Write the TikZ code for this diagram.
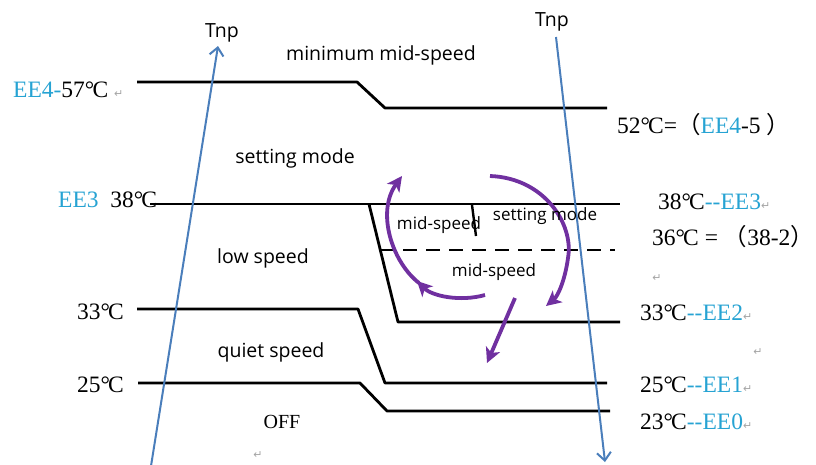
\documentclass[tikz,border=0pt]{standalone}
\usepackage{fontspec}
\setmainfont{Liberation Serif}
\newfontfamily\labelsans{Open Sans}
\newfontfamily\cjkfont{Noto Sans CJK SC}
\newfontfamily\symfont{DejaVu Sans}
\usetikzlibrary{arrows.meta}
\definecolor{eecyan}{RGB}{38,163,211}
\definecolor{tnpblue}{RGB}{74,126,187}
\definecolor{arcpurple}{RGB}{112,48,160}
\definecolor{markgray}{RGB}{165,165,165}
\newcommand\dC{°\kern-0.08em C}
\newcommand\ret{{\symfont\fontsize{11}{11}\selectfont\color{markgray}↵}}
\newcommand\fwl{{\cjkfont （}}
\newcommand\fwr{{\cjkfont ）}}
\begin{document}
\begin{tikzpicture}[x=1pt,y=-1pt,
  level/.style={line width=2.8pt, black, line join=round},
  tnp/.style={line width=2pt, tnpblue, -{Straight Barb[length=8pt,width=14pt]}},
  swirl/.style={line width=3.8pt, arcpurple, -{Stealth[length=15pt,width=15pt,inset=4pt]}},
  zone/.style={font=\labelsans\fontsize{19.5}{21}\selectfont, inner sep=0pt},
  innerlbl/.style={font=\labelsans\fontsize{17}{19}\selectfont, inner sep=0pt},
  temp/.style={font=\fontsize{23.5}{25}\selectfont, inner sep=0pt, anchor=west},
  retmark/.style={inner sep=0pt}]

\useasboundingbox[fill=white] (0,0) rectangle (816,464);

% level lines
\draw[level] (137,82) -- (357,82) -- (385,108) -- (607,108);
\draw[level] (150,204) -- (620,204);
\draw[level] (369,204) -- (398,322) -- (620,322);
\draw[level, dash pattern=on 14pt off 9pt] (380,250) -- (615,250);
\draw[level, line width=2.4pt] (472,205) -- (476,236);
\draw[level] (137,309) -- (358,309) -- (385,383) -- (607,383);
\draw[level] (138,383) -- (360,383) -- (387,411) -- (610,411);

% Tnp arrows
\coordinate (tlb) at (151,466);
\coordinate (tlt) at (218,46);
\coordinate (trt) at (556,37);
\coordinate (trb) at (605,462);
\draw[tnp] (tlb) -- (tlt);
\draw[tnp] (trt) -- (trb);
\node[zone] (tnpL) at (222,33) {Tnp};
\node[zone] (tnpR) at (552,22) {Tnp};

% purple swirl arrows
\draw[swirl] (485,295) .. controls (460,302) and (432,296) .. (417,281);
\draw[swirl] (419,283) .. controls (392,262) and (376,212) .. (402,176);
\draw[swirl] (490,176) .. controls (545,178) and (574,225) .. (568,258) .. controls (565,280) and (558,296) .. (546,306);
\draw[swirl] (515,298) -- (487,363);

% zone labels
\node[zone] (minmid) at (381,55) {minimum mid-speed};
\node[zone] (setmode) at (295,158) {setting mode};
\node[zone] (low) at (263,258) {low speed};
\node[zone] (quiet) at (271,352) {quiet speed};
\node[inner sep=0pt, font=\fontsize{20}{22}\selectfont] (off) at (282,422) {OFF};
\node[innerlbl] (mid1) at (439,225) {mid-speed};
\node[innerlbl] (set2) at (545,216) {setting mode};
\node[innerlbl] (mid2) at (494,272) {mid-speed};

% left temperature labels
\node[temp] (ee4l) at (13,90) {{\color{eecyan}EE4-}57\dC\ \ret};
\node[temp] (ee3l) at (58,200) {{\color{eecyan}EE3}\ \ 38\dC};
\node[temp] (t33l) at (77,312) {33\dC};
\node[temp] (t25l) at (77,385) {25\dC};

% right temperature labels
\node[temp] (r52) at (617,125) {52\dC=\fwl{\color{eecyan}EE4}-5 \fwr};
\node[temp] (r38) at (658,202) {38\dC{\color{eecyan}-{}-EE3}\ret};
\node[temp] (r36) at (652,237) {36\dC\ = \fwl 38-2\fwr};
\node[retmark] (ret1) at (657,278) {\ret};
\node[temp] (r33) at (640,313) {33\dC{\color{eecyan}-{}-EE2}\ret};
\node[retmark] (ret2) at (758,352) {\ret};
\node[temp] (r25) at (640,385) {25\dC{\color{eecyan}-{}-EE1}\ret};
\node[temp] (r23) at (640,422) {23\dC{\color{eecyan}-{}-EE0}\ret};
\node[retmark] (ret3) at (258,455) {\ret};
\end{tikzpicture}
\end{document}
